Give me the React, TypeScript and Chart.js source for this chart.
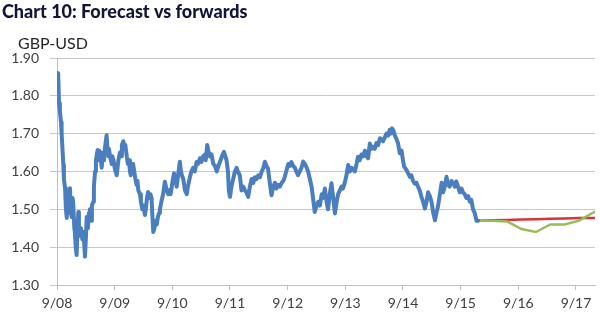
import { useEffect, useRef } from 'react';
import { Chart, registerables } from 'chart.js';

Chart.register(...registerables);

const chartTitle = 'Chart 10: Forecast vs forwards';
const axisName = 'GBP-USD';

const xTickYears = [0, 1, 2, 3, 4, 5, 6, 7, 8, 9];
const xTickLabels = ['9/08', '9/09', '9/10', '9/11', '9/12', '9/13', '9/14', '9/15', '9/16', '9/17'];
const yTickValues = [1.3, 1.4, 1.5, 1.6, 1.7, 1.8, 1.9];

// years since Sep 2008
const spotYears = [
  0.01, 0.02, 0.035, 0.05, 0.07, 0.08, 0.095, 0.11, 0.12, 0.14, 0.155, 0.17, 0.18, 0.195, 0.21, 0.225,
  0.24, 0.255, 0.27, 0.28, 0.3, 0.31, 0.325, 0.34, 0.355, 0.37, 0.38, 0.4, 0.415, 0.44, 0.46, 0.485,
  0.5, 0.515, 0.535, 0.555, 0.57, 0.59, 0.605, 0.63, 0.64, 0.66, 0.675, 0.705, 0.72, 0.735, 0.755, 0.775,
  0.79, 0.8, 0.815, 0.83, 0.86, 0.875, 0.89, 0.9, 0.92, 0.95, 0.96, 0.98, 1.0, 1.015, 1.035, 1.05,
  1.065, 1.09, 1.11, 1.125, 1.15, 1.17, 1.185, 1.21, 1.23, 1.25, 1.265, 1.28, 1.3, 1.32, 1.34, 1.36,
  1.38, 1.395, 1.41, 1.44, 1.455, 1.48, 1.5, 1.525, 1.54, 1.56, 1.58, 1.6, 1.62, 1.64, 1.655, 1.67,
  1.69, 1.705, 1.73, 1.75, 1.77, 1.785, 1.81, 1.84, 1.87, 1.89, 1.905, 1.93, 1.95, 1.97, 1.99, 2.01,
  2.03, 2.05, 2.075, 2.1, 2.13, 2.15, 2.165, 2.19, 2.22, 2.25, 2.27, 2.305, 2.33, 2.36, 2.39, 2.42,
  2.445, 2.48, 2.505, 2.535, 2.565, 2.58, 2.605, 2.625, 2.65, 2.68, 2.71, 2.74, 2.77, 2.8, 2.825, 2.86,
  2.895, 2.92, 2.94, 2.965, 2.98, 3.0, 3.025, 3.055, 3.085, 3.115, 3.135, 3.17, 3.2, 3.23, 3.26, 3.285,
  3.315, 3.345, 3.375, 3.405, 3.43, 3.46, 3.49, 3.52, 3.55, 3.58, 3.605, 3.63, 3.66, 3.69, 3.72, 3.75,
  3.78, 3.805, 3.835, 3.865, 3.895, 3.925, 3.95, 3.975, 4.01, 4.04, 4.065, 4.095, 4.125, 4.15, 4.18, 4.21,
  4.24, 4.27, 4.3, 4.33, 4.355, 4.385, 4.415, 4.44, 4.47, 4.5, 4.53, 4.56, 4.59, 4.615, 4.645, 4.675,
  4.7, 4.73, 4.76, 4.79, 4.82, 4.85, 4.875, 4.905, 4.935, 4.96, 4.99, 5.02, 5.05, 5.08, 5.11, 5.135,
  5.165, 5.195, 5.22, 5.25, 5.28, 5.31, 5.34, 5.37, 5.395, 5.425, 5.455, 5.48, 5.51, 5.54, 5.57, 5.6,
  5.63, 5.655, 5.685, 5.715, 5.74, 5.77, 5.79, 5.81, 5.83, 5.86, 5.89, 5.915, 5.945, 5.975, 6.0, 6.02,
  6.06, 6.09, 6.12, 6.145, 6.175, 6.205, 6.235, 6.26, 6.29, 6.32, 6.35, 6.38, 6.41, 6.435, 6.465, 6.495,
  6.525, 6.555, 6.58, 6.61, 6.64, 6.67, 6.695, 6.725, 6.755, 6.78, 6.81, 6.84, 6.87, 6.9, 6.925, 6.955,
  6.985, 7.015, 7.04, 7.07, 7.1, 7.13, 7.16, 7.185, 7.215, 7.245, 7.275, 7.305,
];

const spotRates = [
  1.85, 1.86, 1.78, 1.76, 1.73, 1.7, 1.66, 1.617, 1.58, 1.556, 1.5, 1.477, 1.53, 1.49, 1.54, 1.556,
  1.5, 1.48, 1.53, 1.52, 1.45, 1.44, 1.4, 1.379, 1.44, 1.493, 1.45, 1.43, 1.45, 1.42, 1.44, 1.375,
  1.42, 1.48, 1.45, 1.49, 1.5, 1.47, 1.51, 1.52, 1.56, 1.6, 1.63, 1.657, 1.63, 1.655, 1.64, 1.61,
  1.64, 1.65, 1.63, 1.66, 1.696, 1.66, 1.64, 1.66, 1.64, 1.62, 1.64, 1.63, 1.61, 1.6, 1.59, 1.61,
  1.63, 1.65, 1.64, 1.67, 1.68, 1.66, 1.67, 1.64, 1.62, 1.63, 1.6, 1.59, 1.61, 1.62, 1.6, 1.58,
  1.565, 1.575, 1.55, 1.54, 1.52, 1.5, 1.51, 1.485, 1.5, 1.53, 1.546, 1.53, 1.54, 1.53, 1.48, 1.44,
  1.45, 1.47, 1.46, 1.48, 1.49, 1.5, 1.52, 1.54, 1.573, 1.56, 1.55, 1.54, 1.55, 1.54, 1.56, 1.58,
  1.595, 1.58, 1.56, 1.59, 1.626, 1.6, 1.59, 1.58, 1.55, 1.54, 1.56, 1.585, 1.6, 1.61, 1.6, 1.625,
  1.62, 1.635, 1.625, 1.64, 1.645, 1.63, 1.67, 1.655, 1.64, 1.645, 1.62, 1.615, 1.6, 1.615, 1.625, 1.64,
  1.652, 1.64, 1.63, 1.6, 1.55, 1.533, 1.56, 1.58, 1.6, 1.61, 1.6, 1.59, 1.55, 1.56, 1.55, 1.545,
  1.533, 1.56, 1.58, 1.57, 1.585, 1.58, 1.59, 1.585, 1.6, 1.61, 1.626, 1.615, 1.607, 1.57, 1.537, 1.56,
  1.57, 1.555, 1.565, 1.56, 1.57, 1.575, 1.586, 1.6, 1.62, 1.615, 1.625, 1.615, 1.61, 1.6, 1.59, 1.6,
  1.61, 1.626, 1.62, 1.61, 1.6, 1.58, 1.56, 1.53, 1.493, 1.51, 1.52, 1.51, 1.54, 1.53, 1.555, 1.52,
  1.5, 1.54, 1.569, 1.53, 1.489, 1.52, 1.54, 1.55, 1.56, 1.555, 1.57, 1.59, 1.617, 1.6, 1.61, 1.605,
  1.6, 1.62, 1.639, 1.63, 1.645, 1.64, 1.655, 1.64, 1.635, 1.674, 1.66, 1.665, 1.66, 1.675, 1.67, 1.688,
  1.685, 1.68, 1.69, 1.7, 1.695, 1.71, 1.7, 1.714, 1.71, 1.695, 1.685, 1.674, 1.648, 1.655, 1.63, 1.613,
  1.604, 1.595, 1.586, 1.59, 1.575, 1.568, 1.57, 1.56, 1.55, 1.533, 1.52, 1.502, 1.52, 1.545, 1.535, 1.52,
  1.49, 1.471, 1.49, 1.51, 1.54, 1.57, 1.545, 1.56, 1.586, 1.565, 1.56, 1.575, 1.57, 1.56, 1.574, 1.56,
  1.545, 1.555, 1.545, 1.54, 1.53, 1.535, 1.52, 1.525, 1.5, 1.49, 1.47, 1.47,
];

const outlookYears = [7.305, 7.555, 7.805, 8.055, 8.305, 8.555, 8.805, 9.055, 9.33];
const forecastRates = [1.47, 1.47, 1.468, 1.448, 1.44, 1.46, 1.46, 1.47, 1.494];
const forwardRates = [1.47, 1.471, 1.472, 1.473, 1.474, 1.475, 1.476, 1.477, 1.477];

const pairs = (xs: number[], ys: number[]) => xs.map((x, i) => ({ x, y: ys[i] }));

const textPlugin = {
  id: 'textPlugin',
  afterDraw(chart: any) {
    const ctx = chart.ctx;
    ctx.save();
    ctx.textBaseline = 'alphabetic';
    ctx.textAlign = 'left';
    ctx.fillStyle = '#14143a';
    ctx.font = '900 18px Lato';
    ctx.fillText(chartTitle, 2, 18);
    ctx.fillStyle = '#262626';
    ctx.font = '16px Lato';
    ctx.fillText(axisName, 18, 49);
    ctx.restore();
  },
};

export default function App() {
  const ref = useRef<HTMLCanvasElement | null>(null);
  useEffect(() => {
    if (!ref.current) return;
    const chart = new Chart(ref.current, {
      type: 'line',
      data: {
        datasets: [
          {
            label: 'Spot',
            data: pairs(spotYears, spotRates),
            borderColor: '#4a7ebf',
            borderWidth: 4,
            pointRadius: 0,
            tension: 0,
            borderJoinStyle: 'round',
            borderCapStyle: 'round',
          },
          {
            label: 'Forecast',
            data: pairs(outlookYears, forecastRates),
            borderColor: '#9bbb59',
            borderWidth: 2.5,
            pointRadius: 0,
            tension: 0,
          },
          {
            label: 'Forwards',
            data: pairs(outlookYears, forwardRates),
            borderColor: '#d7343a',
            borderWidth: 2.5,
            pointRadius: 0,
            tension: 0,
          },
        ],
      },
      options: {
        responsive: false,
        animation: false,
        layout: { padding: { left: 0, right: 5, top: 58, bottom: 0 } },
        plugins: { legend: { display: false }, tooltip: { enabled: false }, title: { display: false } },
        scales: {
          x: {
            type: 'linear',
            min: 0,
            max: 9.33,
            afterBuildTicks: (s: any) => {
              s.ticks = xTickYears.map((v) => ({ value: v }));
            },
            afterFit: (s: any) => {
              s.height = 39;
            },
            grid: { display: true, drawOnChartArea: false, drawTicks: true, tickLength: 5, color: '#bfbfbf' },
            border: { display: true, color: '#bfbfbf' },
            ticks: {
              autoSkip: false,
              maxRotation: 0,
              padding: 5,
              color: '#404040',
              font: { family: 'Lato', size: 14 },
              callback: (v: any) => xTickLabels[xTickYears.indexOf(Number(v))] ?? '',
            },
          },
          y: {
            type: 'linear',
            min: 1.3,
            max: 1.9,
            afterBuildTicks: (s: any) => {
              s.ticks = yTickValues.map((v) => ({ value: v }));
            },
            afterFit: (s: any) => {
              s.width = 57;
            },
            grid: { color: '#c8c8c8', tickLength: 7, drawTicks: true },
            border: { display: true, color: '#bfbfbf' },
            ticks: {
              padding: 11,
              color: '#404040',
              font: { family: 'Lato', size: 14 },
              callback: (v: any) => Number(v).toFixed(2),
            },
          },
        },
      },
      plugins: [textPlugin],
    });
    return () => chart.destroy();
  }, []);
  return (
    <div style={{ position: 'fixed', left: 0, top: 0, width: 600, height: 324, background: '#fff' }}>
      <canvas ref={ref} width={600} height={324} style={{ display: 'block' }} />
    </div>
  );
}
